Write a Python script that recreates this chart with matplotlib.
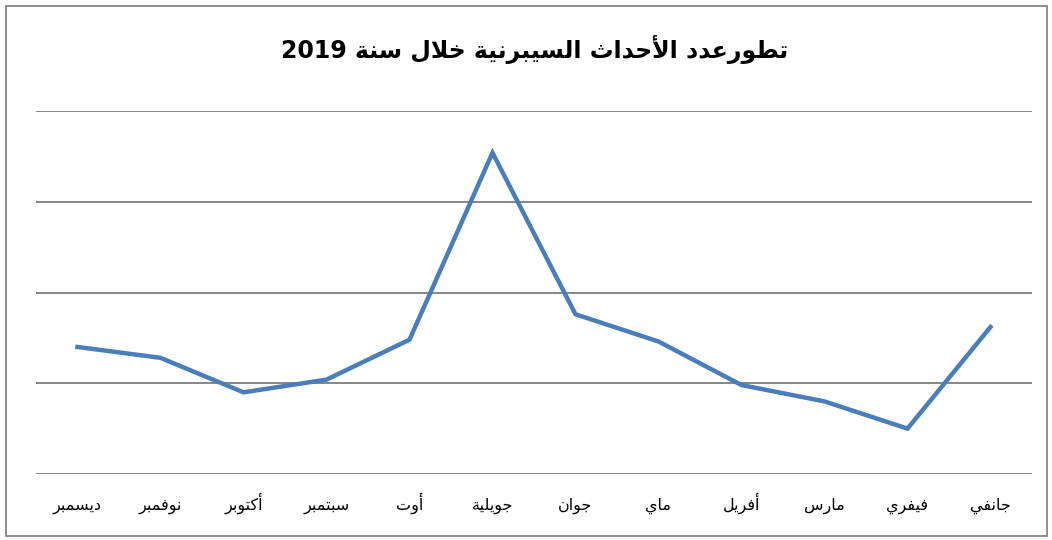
import re
import matplotlib
matplotlib.use('Agg')
import matplotlib.pyplot as plt
from matplotlib.patches import Rectangle

# data (x axis runs right to left: January on the right)
months = ['جانفي', 'فيفري', 'مارس', 'أفريل', 'ماي', 'جوان',
          'جويلية', 'أوت', 'سبتمبر', 'أكتوبر', 'نوفمبر', 'ديسمبر']
incidents = [81, 25, 40, 49, 73, 88, 177, 74, 52, 45, 64, 70]
y_ticks = [0, 50, 100, 150, 200]
title = 'تطورعدد الأحداث السيبرنية خلال سنة 2019'

# small arabic shaper (matplotlib has no shaping / bidi)
FOUR = {'ئ': 0xFE89, 'ب': 0xFE8F, 'ت': 0xFE95, 'ث': 0xFE99, 'ج': 0xFE9D,
        'ح': 0xFEA1, 'خ': 0xFEA5, 'س': 0xFEB1, 'ش': 0xFEB5, 'ص': 0xFEB9,
        'ض': 0xFEBD, 'ط': 0xFEC1, 'ظ': 0xFEC5, 'ع': 0xFEC9, 'غ': 0xFECD,
        'ف': 0xFED1, 'ق': 0xFED5, 'ك': 0xFED9, 'ل': 0xFEDD, 'م': 0xFEE1,
        'ن': 0xFEE5, 'ه': 0xFEE9, 'ي': 0xFEF1}
TWO = {'آ': 0xFE81, 'أ': 0xFE83, 'ؤ': 0xFE85, 'إ': 0xFE87, 'ا': 0xFE8D,
       'ة': 0xFE93, 'د': 0xFEA9, 'ذ': 0xFEAB, 'ر': 0xFEAD, 'ز': 0xFEAF,
       'و': 0xFEED, 'ى': 0xFEEF}
LAMALEF = {'آ': 0xFEF5, 'أ': 0xFEF7, 'إ': 0xFEF9, 'ا': 0xFEFB}


def shape(s):
    toks = []
    i = 0
    while i < len(s):
        c = s[i]
        if c == 'ل' and i + 1 < len(s) and s[i + 1] in LAMALEF:
            toks.append(('la', LAMALEF[s[i + 1]]))
            i += 2
            continue
        if c in FOUR:
            toks.append(('four', FOUR[c]))
        elif c in TWO:
            toks.append(('two', TWO[c]))
        else:
            toks.append(('x', c))
        i += 1
    out = []
    for k, (kind, val) in enumerate(toks):
        if kind == 'x':
            out.append(val)
            continue
        prev = k > 0 and toks[k - 1][0] == 'four'
        nxt = kind == 'four' and k + 1 < len(toks) and toks[k + 1][0] != 'x'
        if kind == 'four':
            off = 3 if (prev and nxt) else 1 if prev else 2 if nxt else 0
        else:
            off = 1 if prev else 0
        out.append(chr(val + off))
    vis = ''.join(out)[::-1]
    return re.sub(r'\d+', lambda m: m.group()[::-1], vis)


plt.rcParams['font.family'] = ['DejaVu Sans']

fig = plt.figure(figsize=(10.52, 5.40), dpi=100)
ax = fig.add_axes([36 / 1052, 1 - 474 / 540, 996 / 1052, 363 / 540])

x = list(range(len(months)))
ax.plot(x, incidents, color='#4A7EBB', linewidth=3.2, solid_joinstyle='miter', zorder=3)

ax.set_xlim(11.5, -0.5)
ax.set_ylim(y_ticks[0], y_ticks[-1])
for yv in y_ticks:
    ax.axhline(yv, color='#868686', linewidth=1.4, zorder=1)

ax.set_xticks(x)
ax.set_xticklabels([shape(m) for m in months], fontsize=11.5, va='baseline')
ax.tick_params(axis='x', length=0, pad=26)
ax.set_yticks([])
for sp in ax.spines.values():
    sp.set_visible(False)

fig.text(535 / 1052, 1 - 58 / 540, shape(title), fontsize=17, fontweight='bold',
         ha='center', va='baseline')

fig.patches.append(Rectangle((6 / 1052, 4 / 540), 1041 / 1052, 530 / 540,
                             transform=fig.transFigure, fill=False,
                             edgecolor='#868686', linewidth=1.3))

fig.savefig('out.png', dpi=100)
